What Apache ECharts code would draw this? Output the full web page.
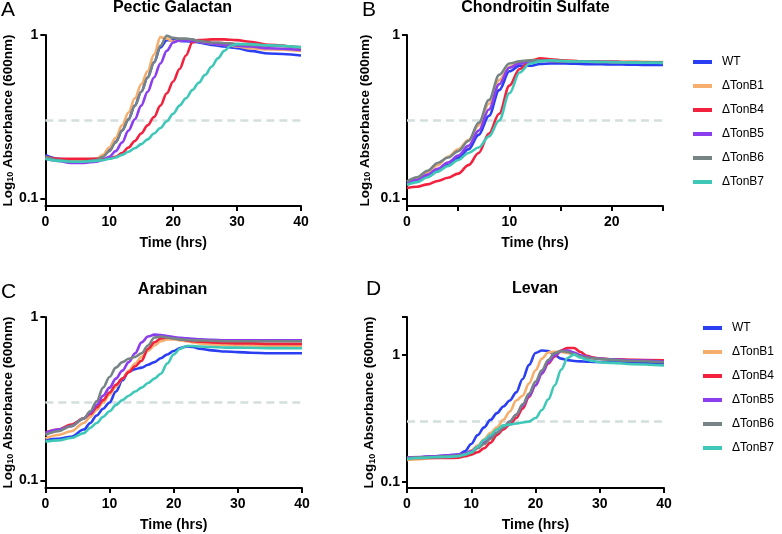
<!DOCTYPE html>
<html><head><meta charset="utf-8">
<script src="https://cdn.jsdelivr.net/npm/echarts@6/dist/echarts.min.js"></script>
<style>html,body{margin:0;padding:0;background:#fff}#c{width:782px;height:534px}</style>
</head><body><div id="c"></div>
<script>
// ---------------- DATA ----------------
const seriesNames = ['WT', 'ΔTonB1', 'ΔTonB4', 'ΔTonB5', 'ΔTonB6', 'ΔTonB7'];
const threshold = 0.3;
const yLabelValues = [0.1, 1];
const yTickValuesD = [0.1, 1, 2];
const xLabelsA = [0, 10, 20, 30, 40];
const xLabelsB = [0, 10, 20];

// Panel A: Pectic Galactan
const timeA = [0,2,4,6,8,9,10,11,12,13,14,15,16,17,18,19,20,21,22,23,24,25,26,27,28,29,30,32,35,40];
const aWT  = [0.185,0.175,0.172,0.172,0.175,0.182,0.198,0.222,0.26,0.305,0.37,0.45,0.55,0.68,0.84,0.93,0.93,0.92,0.915,0.91,0.9,0.885,0.87,0.86,0.85,0.84,0.83,0.8,0.77,0.75];
const aB1  = [0.178,0.172,0.17,0.17,0.175,0.185,0.205,0.235,0.28,0.335,0.41,0.5,0.6,0.76,0.97,0.95,0.91,0.93,0.935,0.925,0.91,0.9,0.89,0.88,0.87,0.86,0.85,0.83,0.815,0.8];
const aB4  = [0.18,0.175,0.175,0.175,0.175,0.175,0.176,0.18,0.19,0.205,0.225,0.25,0.28,0.315,0.37,0.44,0.52,0.62,0.75,0.9,0.93,0.935,0.94,0.94,0.94,0.935,0.93,0.91,0.87,0.83];
const aB5  = [0.175,0.17,0.165,0.165,0.168,0.172,0.18,0.195,0.22,0.26,0.305,0.37,0.45,0.55,0.67,0.8,0.9,0.93,0.93,0.92,0.91,0.9,0.89,0.88,0.87,0.87,0.86,0.85,0.83,0.81];
const aB6  = [0.18,0.172,0.168,0.168,0.172,0.18,0.195,0.22,0.26,0.305,0.37,0.45,0.55,0.68,0.86,0.99,0.96,0.95,0.95,0.94,0.92,0.91,0.9,0.9,0.89,0.89,0.88,0.87,0.86,0.845];
const aB7  = [0.175,0.17,0.168,0.168,0.17,0.172,0.175,0.178,0.185,0.193,0.203,0.215,0.23,0.25,0.27,0.297,0.33,0.37,0.41,0.46,0.51,0.57,0.64,0.72,0.8,0.86,0.88,0.88,0.865,0.84];

// Panel B: Chondroitin Sulfate
const timeB = [0,1,2,3,4,5,6,7,8,9,10,11,12,13,14,15,16,17,18,19,20,21,22,23,24,25];
const bWT  = [0.123,0.128,0.137,0.147,0.16,0.177,0.2,0.245,0.32,0.46,0.6,0.65,0.648,0.665,0.67,0.67,0.668,0.665,0.663,0.662,0.66,0.66,0.658,0.657,0.656,0.655];
const bB1  = [0.127,0.133,0.145,0.16,0.18,0.2,0.228,0.28,0.38,0.53,0.64,0.68,0.7,0.715,0.71,0.7,0.695,0.69,0.69,0.688,0.687,0.686,0.685,0.685,0.684,0.683];
const bB4  = [0.116,0.118,0.122,0.128,0.134,0.142,0.16,0.19,0.25,0.33,0.49,0.62,0.69,0.72,0.71,0.7,0.695,0.69,0.688,0.686,0.685,0.684,0.683,0.682,0.681,0.68];
const bB5  = [0.124,0.13,0.14,0.152,0.166,0.183,0.21,0.26,0.35,0.5,0.63,0.67,0.69,0.7,0.695,0.69,0.688,0.686,0.685,0.684,0.683,0.682,0.681,0.68,0.68,0.68];
const bB6  = [0.127,0.135,0.148,0.165,0.178,0.195,0.225,0.29,0.4,0.57,0.67,0.69,0.7,0.7,0.695,0.69,0.688,0.686,0.685,0.684,0.683,0.682,0.681,0.68,0.68,0.68];
const bB7  = [0.121,0.126,0.135,0.146,0.158,0.172,0.19,0.205,0.24,0.3,0.44,0.59,0.67,0.69,0.7,0.695,0.69,0.688,0.686,0.684,0.682,0.68,0.678,0.677,0.676,0.675];

// Panel C: Arabinan
const timeC = [0,2,4,6,7,8,9,10,11,12,13,14,15,16,17,18,19,20,21,22,23,24,26,28,30,32,35,40];
const cWT  = [0.177,0.18,0.185,0.205,0.225,0.25,0.275,0.3,0.35,0.41,0.465,0.48,0.49,0.51,0.53,0.56,0.59,0.62,0.645,0.66,0.655,0.64,0.625,0.615,0.61,0.605,0.6,0.6];
const cB1  = [0.181,0.19,0.2,0.225,0.245,0.27,0.3,0.335,0.375,0.42,0.47,0.52,0.57,0.62,0.67,0.71,0.73,0.73,0.72,0.71,0.7,0.69,0.68,0.675,0.67,0.67,0.665,0.665];
const cB4  = [0.196,0.205,0.22,0.24,0.255,0.28,0.31,0.345,0.385,0.42,0.46,0.5,0.54,0.64,0.7,0.74,0.75,0.745,0.73,0.72,0.71,0.705,0.7,0.695,0.69,0.69,0.685,0.685];
const cB5  = [0.195,0.205,0.215,0.24,0.26,0.29,0.33,0.37,0.42,0.47,0.53,0.6,0.7,0.76,0.78,0.775,0.765,0.755,0.745,0.74,0.735,0.73,0.725,0.72,0.72,0.72,0.72,0.72];
const cB6  = [0.19,0.2,0.215,0.24,0.265,0.305,0.37,0.43,0.49,0.53,0.555,0.57,0.6,0.67,0.75,0.76,0.75,0.74,0.73,0.725,0.72,0.72,0.715,0.71,0.71,0.71,0.71,0.71];
const cB7  = [0.173,0.176,0.182,0.195,0.21,0.225,0.245,0.265,0.29,0.31,0.33,0.35,0.37,0.395,0.42,0.45,0.52,0.59,0.64,0.665,0.665,0.66,0.655,0.65,0.65,0.648,0.645,0.644];

// Panel D: Levan
const timeD = [0,2,4,6,8,9,10,11,12,13,14,15,16,17,18,19,20,21,22,23,24,25,26,27,28,29,30,32,35,40];
const dWT  = [0.155,0.157,0.16,0.162,0.165,0.175,0.2,0.235,0.27,0.31,0.35,0.395,0.44,0.51,0.65,0.84,1.04,1.09,1.08,1.0,0.94,0.915,0.9,0.895,0.89,0.885,0.885,0.88,0.87,0.86];
const dB1  = [0.15,0.152,0.155,0.157,0.16,0.165,0.178,0.195,0.218,0.245,0.27,0.31,0.36,0.44,0.48,0.6,0.76,0.94,1.05,1.065,1.06,1.04,1.01,0.98,0.96,0.95,0.94,0.93,0.915,0.9];
const dB4  = [0.155,0.155,0.155,0.155,0.156,0.16,0.165,0.172,0.185,0.205,0.235,0.26,0.285,0.32,0.38,0.47,0.58,0.72,0.86,0.98,1.09,1.14,1.14,1.06,0.99,0.96,0.94,0.93,0.92,0.91];
const dB5  = [0.157,0.158,0.16,0.162,0.165,0.168,0.175,0.19,0.205,0.225,0.245,0.27,0.3,0.34,0.4,0.48,0.58,0.72,0.88,1.0,1.08,1.09,1.05,1.0,0.97,0.95,0.94,0.93,0.91,0.89];
const dB6  = [0.155,0.157,0.158,0.16,0.162,0.165,0.17,0.185,0.2,0.22,0.245,0.27,0.3,0.34,0.41,0.5,0.62,0.76,0.92,1.04,1.08,1.06,1.02,0.98,0.96,0.945,0.935,0.92,0.9,0.88];
const dB7  = [0.152,0.155,0.157,0.158,0.16,0.165,0.172,0.19,0.215,0.235,0.26,0.28,0.285,0.29,0.295,0.3,0.32,0.37,0.45,0.58,0.77,0.95,1.01,0.96,0.92,0.9,0.88,0.87,0.85,0.83];

// ---------------- STYLE / LAYOUT ----------------
const colors = ['#2b3ff2', '#f6ae6e', '#f2223f', '#8b3ef0', '#768485', '#3fc8b8'];
const FONT = 'Liberation Sans, Arial, Helvetica, sans-serif';

const panels = [
  { title: 'Pectic Galactan', letter: 'A', time: timeA, vals: [aWT,aB1,aB4,aB5,aB6,aB7], xMax: 40, xInt: 10, xLabels: xLabelsA, yMax: 1, yTicks: yLabelValues,
    grid: {left: 44, top: 35, width: 257, height: 171}, nameGap: 29, titleX: 172.5, titleY: 0, letterX: 1, letterY: 0 },
  { title: 'Chondroitin Sulfate', letter: 'B', time: timeB, vals: [bWT,bB1,bB4,bB5,bB6,bB7], xMax: 25, xInt: 5, xLabels: xLabelsB, yMax: 1, yTicks: yLabelValues,
    grid: {left: 407, top: 35, width: 256, height: 171}, nameGap: 35, titleX: 535.5, titleY: 0, letterX: 362, letterY: 0 },
  { title: 'Arabinan', letter: 'C', time: timeC, vals: [cWT,cB1,cB4,cB5,cB6,cB7], xMax: 40, xInt: 10, xLabels: xLabelsA, yMax: 1, yTicks: yLabelValues,
    grid: {left: 44, top: 317, width: 258, height: 171}, nameGap: 29, titleX: 172.5, titleY: 282, letterX: 1, letterY: 282 },
  { title: 'Levan', letter: 'D', time: timeD, vals: [dWT,dB1,dB4,dB5,dB6,dB7], xMax: 40, xInt: 10, xLabels: xLabelsA, yMax: 2, yTicks: yTickValuesD,
    grid: {left: 407, top: 317, width: 257, height: 171}, nameGap: 29, titleX: 535, titleY: 281, letterX: 366, letterY: 279 }
];

const grids = [], xAxes = [], yAxes = [], series = [], graphics = [];
panels.forEach((p, gi) => {
  grids.push(Object.assign({containLabel: false}, p.grid));
  xAxes.push({
    type: 'value', gridIndex: gi, min: 0, max: p.xMax, interval: p.xInt,
    name: 'Time (hrs)', nameLocation: 'middle', nameGap: 30,
    nameTextStyle: {fontSize: 14, fontWeight: 'bold', color: '#000', fontFamily: FONT},
    axisLine: {show: true, onZero: false, lineStyle: {color: '#000', width: 2}},
    axisTick: {show: true, inside: false, length: 5, lineStyle: {color: '#000', width: 2}},
    axisLabel: {fontSize: 14, fontWeight: 'bold', color: '#000', fontFamily: FONT, margin: 9, customValues: p.xLabels},
    splitLine: {show: false}
  });
  yAxes.push({
    type: 'log', logBase: 10, gridIndex: gi, min: 0.09, max: p.yMax,
    name: '{a|Log}{s|10}{a| Absorbance (600nm)}', nameLocation: 'middle', nameGap: p.nameGap,
    nameTextStyle: {color: '#000', fontFamily: FONT, rich: {
      a: {fontSize: 13.5, fontWeight: 'bold', color: '#000', fontFamily: FONT},
      s: {fontSize: 9, fontWeight: 'bold', color: '#000', fontFamily: FONT, verticalAlign: 'bottom', padding: [5, 0, 0, 0]}
    }},
    axisLine: {show: true, onZero: false, lineStyle: {color: '#000', width: 2}},
    axisTick: {show: true, inside: false, length: 5, lineStyle: {color: '#000', width: 2}, customValues: p.yTicks},
    axisLabel: {fontSize: 14, fontWeight: 'bold', color: '#000', fontFamily: FONT, margin: 7, customValues: yLabelValues,
      formatter: v => String(+v.toPrecision(3))},
    splitLine: {show: false}, minorTick: {show: false}
  });
  series.push({
    type: 'line', name: 'threshold', xAxisIndex: gi, yAxisIndex: gi, silent: true, z: 1,
    showSymbol: false, symbol: 'none',
    data: [[0, threshold], [p.xMax, threshold]],
    lineStyle: {color: '#d3dfde', width: 2.5, type: [8, 5]}
  });
  seriesNames.forEach((name, si) => {
    series.push({
      type: 'line', name: name, xAxisIndex: gi, yAxisIndex: gi, z: 2 + si,
      showSymbol: false, symbol: 'none', smooth: 0.35, smoothMonotone: 'x',
      color: colors[si],
      lineStyle: {color: colors[si], width: 2.6},
      data: p.time.map((t, i) => [t, p.vals[si][i]])
    });
  });
  graphics.push({type: 'text', x: p.titleX, y: p.titleY, style: {text: p.title, align: 'center', verticalAlign: 'top',
    font: 'bold 16px ' + FONT, fill: '#000'}});
  graphics.push({type: 'text', x: p.letterX, y: p.letterY, style: {text: p.letter, align: 'left', verticalAlign: 'top',
    font: 'normal 21px ' + FONT, fill: '#000'}});
});

const legendCommon = {
  orient: 'vertical', data: seriesNames, icon: 'rect', itemWidth: 19, itemHeight: 4, itemGap: 10, padding: 0,
  selectedMode: false,
  textStyle: {fontSize: 12, color: '#000', fontFamily: FONT, padding: [0, 0, 0, 5], lineHeight: 14}
};

const chart = echarts.init(document.getElementById('c'), null, {renderer: 'canvas'});
chart.setOption({
  animation: false,
  backgroundColor: '#fff',
  grid: grids, xAxis: xAxes, yAxis: yAxes, series: series,
  legend: [
    Object.assign({left: 693, top: 55}, legendCommon),
    Object.assign({left: 703, top: 321}, legendCommon)
  ],
  graphic: graphics
});
</script></body></html>
